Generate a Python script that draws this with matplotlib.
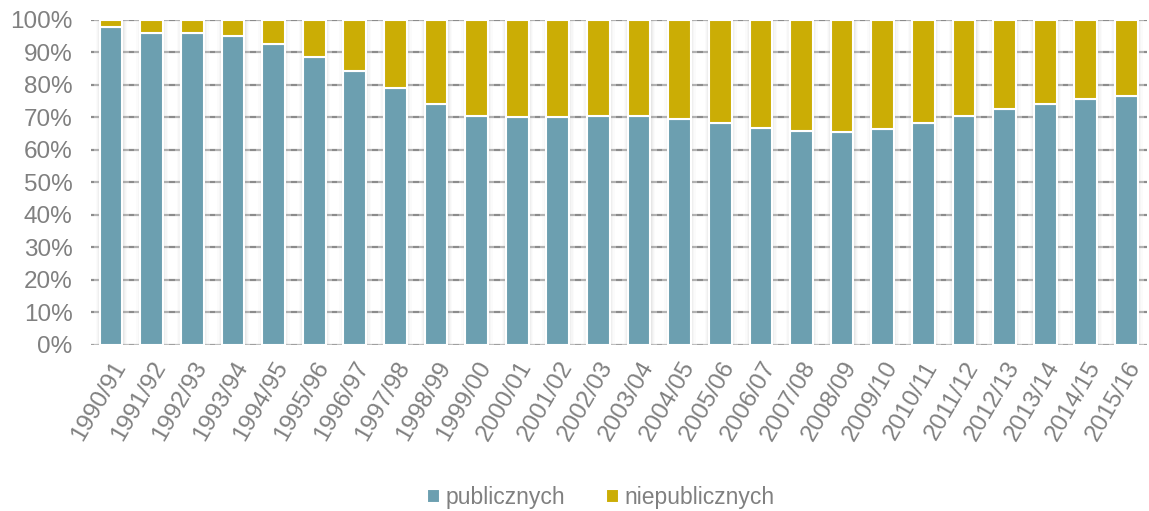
import matplotlib.pyplot as plt
import numpy as np

plt.rcParams["font.family"] = ["Liberation Sans", "DejaVu Sans"]

years = ["1990/91", "1991/92", "1992/93", "1993/94", "1994/95", "1995/96",
         "1996/97", "1997/98", "1998/99", "1999/00", "2000/01", "2001/02",
         "2002/03", "2003/04", "2004/05", "2005/06", "2006/07", "2007/08",
         "2008/09", "2009/10", "2010/11", "2011/12", "2012/13", "2013/14",
         "2014/15", "2015/16"]
publiczne = [97.7, 96.0, 95.9, 95.0, 92.6, 88.6, 84.3, 79.1, 74.2, 70.5,
             70.2, 70.2, 70.5, 70.5, 69.6, 68.2, 66.8, 65.8, 65.6, 66.5,
             68.3, 70.4, 72.5, 74.2, 75.6, 76.6]
niepubliczne = [100 - v for v in publiczne]

teal = "#6c9fb0"
gold = "#cbad05"
grey = "#808080"

x = np.arange(len(years))
w = 0.56

fig = plt.figure(figsize=(11.49, 5.11), dpi=100)
ax = fig.add_axes([0.079, 0.325, 0.919, 0.636])

for y in np.arange(10, 101, 10):
    ax.axhline(y, color="#8c8c8c", lw=1.6, zorder=0)
ax.axhline(0, color="#a0a0a0", lw=1.6, zorder=0)

# soft shadow around the bars
ax.bar(x, [100] * len(x), width=w + 0.3, color="white", alpha=0.35,
       lw=0, zorder=0.5)
for k, a in [(0.22, 0.02), (0.15, 0.03), (0.09, 0.045), (0.04, 0.06)]:
    ax.bar(x + 0.01, [100] * len(x), width=w + k, color="#606060", alpha=a,
           lw=0, zorder=1)

ax.bar(x, publiczne, width=w, color=teal, edgecolor="white", lw=1.5,
       label="publicznych", zorder=2)
ax.bar(x, niepubliczne, width=w, bottom=publiczne, color=gold,
       edgecolor="white", lw=1.5, label="niepublicznych", zorder=2)

ax.set_xlim(-0.5, len(years) - 0.5)
ax.set_ylim(0, 100)
ax.set_yticks(np.arange(0, 101, 10))
ax.set_yticklabels(["{}%".format(v) for v in range(0, 101, 10)])
ax.set_xticks(x)
ax.set_xticklabels(years, rotation=60, ha="right", rotation_mode="anchor")
ax.tick_params(axis="both", length=0, labelsize=17.5, colors=grey)
ax.tick_params(axis="x", pad=9)
ax.tick_params(axis="y", pad=13)
for s in ax.spines.values():
    s.set_visible(False)

fig.legend(loc="lower center", bbox_to_anchor=(0.523, -0.037), ncol=2,
           frameon=False, fontsize=16.5, labelcolor=grey, handlelength=0.55,
           handleheight=0.55, handletextpad=0.25, columnspacing=1.8)

fig.savefig("out.png", dpi=100)
